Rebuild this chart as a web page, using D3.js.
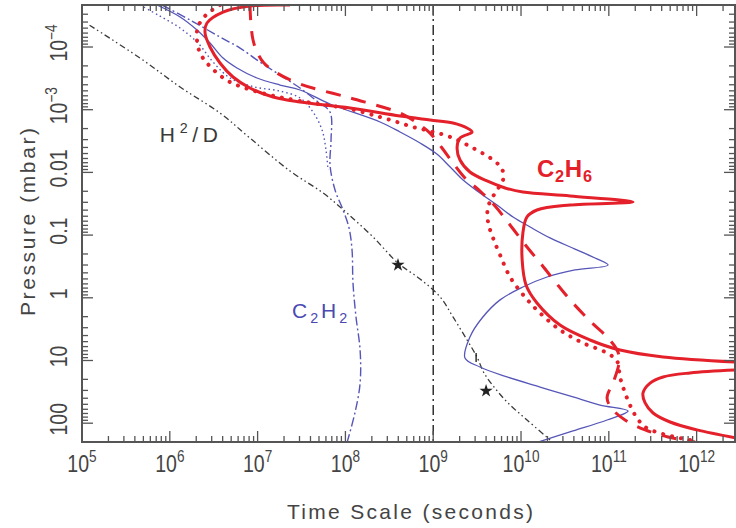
<!DOCTYPE html>
<html><head><meta charset="utf-8">
<script src="https://cdn.jsdelivr.net/npm/d3@7"></script>
<style>
html,body{margin:0;padding:0;background:#fff;}
svg{display:block;font-family:"Liberation Sans",Arial,sans-serif;}
</style></head>
<body>
<svg id="chart" width="736" height="528"></svg>
<script>
// ---- Data: [time scale (s), pressure (mbar)] ----
const c2h6SolidUpper = [[2.34e7,2.14e-5],[8.18e6,2.22e-5],[4.04e6,2.77e-5],[2.65e6,4.14e-5],[2.52e6,5.98e-5],[2.87e6,1.0e-4],[3.73e6,1.80e-4],[5.25e6,3.01e-4],[8.18e6,4.51e-4],[1.50e7,6.27e-4],[3.04e7,7.53e-4],[1.13e8,9.40e-4],[4.19e8,1.26e-3],[9.20e8,1.46e-3],[1.68e9,1.63e-3],[2.43e9,1.96e-3],[2.77e9,2.27e-3],[2.02e9,2.83e-3],[1.87e9,4.08e-3],[2.02e9,6.34e-3],[2.62e9,9.86e-3],[4.10e9,1.37e-2],[6.58e9,1.77e-2],[1.05e10,2.06e-2],[3.62e10,2.38e-2],[1.89e11,2.96e-2],[3.62e10,3.31e-2],[1.52e10,3.98e-2],[1.17e10,5.14e-2],[1.05e10,9.26e-2],[1.03e10,0.249],[1.14e10,0.625],[1.52e10,1.21],[2.78e10,2.72],[6.11e10,4.71],[1.34e11,6.81],[4.15e11,8.80],[2.81e12,10.6]];
const c2h6SolidLower = [[2.81e12,14.2],[8.41e11,15.8],[4.15e11,18.3],[2.95e11,22.9],[2.45e11,33.0],[2.59e11,47.6],[3.19e11,68.8],[4.98e11,95.7],[1.01e12,128],[2.81e12,172]];
const c2h6Dashed = [[8.18e6,2.14e-5],[8.41e6,4.46e-5],[8.87e6,7.73e-5],[9.84e6,1.20e-4],[1.18e7,1.80e-4],[1.66e7,2.60e-4],[3.04e7,3.89e-4],[1.13e8,6.50e-4],[4.19e8,1.13e-3],[6.54e8,1.63e-3],[9.20e8,2.36e-3],[1.26e9,4.08e-3],[1.68e9,7.08e-3],[2.30e9,1.23e-2],[3.41e9,1.98e-2],[5.06e9,3.44e-2],[7.50e9,6.90e-2],[1.17e10,0.155],[1.73e10,0.300],[2.51e10,0.581],[3.81e10,1.17],[6.44e10,2.52],[9.80e10,4.38],[1.27e11,7.31],[1.31e11,10.6],[1.15e11,20.5],[9.55e10,39.6],[1.09e11,59.2],[1.53e11,88.9],[2.59e11,128],[4.73e11,166],[9.59e11,200]];
const c2h6Dotted = [[3.73e6,2.14e-5],[2.58e6,3.09e-5],[2.09e6,4.80e-5],[2.04e6,7.73e-5],[2.21e6,1.25e-4],[2.65e6,1.80e-4],[3.36e6,2.51e-4],[4.60e6,3.48e-4],[7.19e6,4.51e-4],[1.38e7,5.83e-4],[3.04e7,7.26e-4],[1.13e8,9.75e-4],[2.48e8,1.31e-3],[3.87e8,1.57e-3],[5.89e8,1.89e-3],[9.20e8,2.19e-3],[1.56e9,2.72e-3],[2.84e9,4.08e-3],[4.80e9,6.34e-3],[6.08e9,8.83e-3],[6.24e9,1.32e-2],[5.06e9,2.13e-2],[4.21e9,3.56e-2],[4.21e9,6.18e-2],[4.80e9,0.111],[5.77e9,0.207],[7.50e9,0.466],[1.11e10,0.971],[1.65e10,1.75],[2.78e10,3.26],[5.08e10,5.26],[9.55e10,7.59],[1.24e11,10.2],[1.34e11,18.3],[1.49e11,29.6],[1.70e11,47.6],[1.99e11,73.9],[2.59e11,115],[4.15e11,149],[8.41e11,185]];
const c2h2Solid = [[7.15e5,2.14e-5],[1.31e6,3.32e-5],[2.04e6,5.36e-5],[2.87e6,8.63e-5],[4.04e6,1.50e-4],[5.82e6,2.16e-4],[9.84e6,3.12e-4],[1.80e7,4.04e-4],[3.04e7,4.85e-4],[6.68e7,8.11e-4],[2.48e8,1.57e-3],[4.19e8,2.27e-3],[7.08e8,3.40e-3],[1.10e9,5.09e-3],[1.56e9,8.20e-3],[2.19e9,1.32e-2],[3.41e9,2.13e-2],[5.33e9,3.31e-2],[8.11e9,5.14e-2],[1.27e10,7.43e-2],[2.14e10,0.111],[4.12e10,0.167],[6.97e10,0.232],[9.80e10,0.300],[4.12e10,0.360],[1.98e10,0.466],[1.05e10,0.673],[5.77e9,1.08],[3.60e9,2.10],[2.62e9,4.22],[2.30e9,9.12],[3.41e9,12.7],[6.93e9,18.3],[1.65e10,26.5],[3.91e10,38.2],[7.94e10,51.3],[1.66e11,63.9],[9.55e10,88.9],[3.91e10,133],[1.45e10,207]];
const c2h2DashDot = [[8.15e5,2.14e-5],[1.70e6,3.71e-5],[3.73e6,6.93e-5],[6.31e6,1.04e-4],[1.06e7,1.73e-4],[1.80e7,2.80e-4],[3.04e7,4.51e-4],[4.88e7,7.53e-4],[6.68e7,1.09e-3],[6.86e7,3.04e-3],[6.68e7,7.62e-3],[7.62e7,1.91e-2],[9.40e7,3.98e-2],[1.10e8,7.71e-2],[1.19e8,0.173],[1.22e8,0.581],[1.32e8,2.02],[1.47e8,6.81],[1.47e8,22.9],[1.29e8,66.4],[1.04e8,207]];
const c2h2Dotted = [[4.58e5,2.14e-5],[7.73e5,3.21e-5],[1.31e6,4.98e-5],[2.09e6,8.63e-5],[3.10e6,1.73e-4],[4.85e6,3.12e-4],[9.33e6,4.35e-4],[1.80e7,5.04e-4],[3.04e7,6.50e-4],[4.28e7,1.09e-3],[5.42e7,2.11e-3],[6.01e7,4.39e-3],[6.34e7,9.16e-3]];
const diffusion = [[1.22e5,4.50e-5],[4.58e5,1.50e-4],[1.31e6,4.35e-4],[3.73e6,1.13e-3],[8.18e6,2.83e-3],[2.34e7,9.51e-3],[5.56e7,2.13e-2],[1.04e8,4.45e-2],[2.06e8,0.107],[3.97e8,0.279],[7.08e8,0.501],[1.20e9,0.971],[1.68e9,2.02],[2.43e9,4.71],[3.15e9,8.80],[3.79e9,15.8],[4.93e9,26.5],[7.11e9,47.6],[1.17e10,88.9],[2.14e10,185]];
const starPoints = [[3.97e8,0.300],[4.00e9,30.6]];
const errorBar = [[3.08e9,7.59],[3.08e9,10.6]];
const markerTime = 1e9;
const xTickExponents = [5,6,7,8,9,10,11,12];
const yTickValues = [1e-4,1e-3,0.01,0.1,1,10,100];
const yTickLabels = [["10","\u22124"],["10","\u22123"],["0.01"],["0.1"],["1"],["10"],["100"]];
const labels = [
  {t:7.7e5, p:3.27e-3, parts:[["H",""],["2","sup"],["/D",""]], color:"#3a3a3a", bold:false, size:21, width:58},
  {t:2.47e7, p:2.1, parts:[["C",""],["2","sub"],["H",""],["2","sub"]], color:"#4a4ab2", bold:false, size:21, width:55},
  {t:1.52e10, p:1.18e-2, parts:[["C",""],["2","sub"],["H",""],["6","sub"]], color:"#e4202a", bold:true, size:24, width:55}
];

// ---- Layout ----
const L = 82, R = 735, T = 5, B = 442;
const x = d3.scaleLog().domain([1e5, Math.pow(10, 12.437)]).range([L, R]);
const y = d3.scaleLog().domain([Math.pow(10, -4.67), Math.pow(10, 2.30)]).range([T, B]);

const svg = d3.select("#chart");
svg.append("defs").append("clipPath").attr("id","plotclip")
  .append("rect").attr("x",L).attr("y",T).attr("width",R-L).attr("height",B-T);

const plot = svg.append("g").attr("clip-path","url(#plotclip)");
const line = d3.line().x(d=>x(d[0])).y(d=>y(d[1])).curve(d3.curveCatmullRom.alpha(0.5));
const lineLin = d3.line().x(d=>x(d[0])).y(d=>y(d[1]));

const RED = "#e4202a", BLUE = "#5656b8", BLK = "#3a3a3a";

// vertical marker at 1e9
plot.append("line").attr("x1",x(markerTime)).attr("x2",x(markerTime))
  .attr("y1",T).attr("y2",B).attr("stroke","#222").attr("stroke-width",1.4)
  .attr("stroke-dasharray","10,4,2,4");

// H^2/D
plot.append("path").attr("d",line(diffusion)).attr("fill","none").attr("stroke",BLK)
  .attr("stroke-width",1.3).attr("stroke-dasharray","6,3,1.5,3,1.5,3");
plot.append("path").attr("d",lineLin(errorBar)).attr("stroke","#222").attr("stroke-width",1.4);
plot.selectAll(".star").data(starPoints).enter().append("path")
  .attr("d", d3.symbol().type(d3.symbolStar).size(55))
  .attr("transform", d=>`translate(${x(d[0])},${y(d[1])})`).attr("fill","#222");

// C2H2 (blue)
plot.append("path").attr("d",line(c2h2Dotted)).attr("fill","none").attr("stroke",BLUE)
  .attr("stroke-width",1.4).attr("stroke-dasharray","1.5,3");
plot.append("path").attr("d",line(c2h2DashDot)).attr("fill","none").attr("stroke",BLUE)
  .attr("stroke-width",1.4).attr("stroke-dasharray","9,3,2,3");
plot.append("path").attr("d",line(c2h2Solid)).attr("fill","none").attr("stroke",BLUE)
  .attr("stroke-width",1.3);

// C2H6 (red)
plot.append("path").attr("d",line(c2h6Dotted)).attr("fill","none").attr("stroke",RED)
  .attr("stroke-width",4).attr("stroke-linecap","round").attr("stroke-dasharray","0.1,9");
plot.append("path").attr("d",line(c2h6Dashed)).attr("fill","none").attr("stroke",RED)
  .attr("stroke-width",3).attr("stroke-dasharray","15,11");
[c2h6SolidUpper, c2h6SolidLower].forEach(s=>{
  plot.append("path").attr("d",line(s)).attr("fill","none").attr("stroke",RED)
    .attr("stroke-width",3).attr("stroke-linejoin","round");
});

// ---- Frame and ticks ----
const axisCol = "#555";
const fr = svg.append("g");
fr.append("rect").attr("x",L).attr("y",T).attr("width",R-L).attr("height",B-T)
  .attr("fill","none").attr("stroke",axisCol).attr("stroke-width",2);
const xd = x.domain(), yd = y.domain();
for (let e=4; e<=13; e++) for (let k=1;k<=9;k++){
  const v = k*Math.pow(10,e);
  if (v < xd[0]*0.999 || v > xd[1]) continue;
  const len = k===1?11:6, px = x(v);
  fr.append("line").attr("x1",px).attr("x2",px).attr("y1",B).attr("y2",B-len).attr("stroke",axisCol).attr("stroke-width",1.3);
  fr.append("line").attr("x1",px).attr("x2",px).attr("y1",T).attr("y2",T+len).attr("stroke",axisCol).attr("stroke-width",1.3);
}
for (let e=-6; e<=3; e++) for (let k=1;k<=9;k++){
  const v = k*Math.pow(10,e);
  if (v < yd[0] || v > yd[1]) continue;
  const len = k===1?11:6, py = y(v);
  fr.append("line").attr("x1",L).attr("x2",L+len).attr("y1",py).attr("y2",py).attr("stroke",axisCol).attr("stroke-width",1.3);
  fr.append("line").attr("x1",R).attr("x2",R-len).attr("y1",py).attr("y2",py).attr("stroke",axisCol).attr("stroke-width",1.3);
}

// x tick labels
const TXT = "#444";
xTickExponents.forEach(e=>{
  const g = svg.append("g").attr("transform",`translate(${x(Math.pow(10,e))},472)`);
  const t = g.append("text").attr("transform","scale(0.85,1)").attr("text-anchor","middle").attr("fill",TXT);
  t.append("tspan").attr("font-size",23).text("10");
  t.append("tspan").attr("font-size",16).attr("dy",-10).text(String(e));
});
// y tick labels (rotated)
yTickValues.forEach((v,i)=>{
  const g = svg.append("g").attr("transform",`translate(67,${y(v)-4}) rotate(-90)`);
  const t = g.append("text").attr("transform","scale(0.85,1)").attr("text-anchor","middle").attr("fill",TXT);
  const lab = yTickLabels[i];
  t.append("tspan").attr("font-size",23).text(lab[0]);
  if (lab.length>1) t.append("tspan").attr("font-size",16).attr("dy",-10).text(lab[1]);
});

// axis titles
svg.append("text").attr("x",410).attr("y",519).attr("text-anchor","middle")
  .attr("font-size",21).attr("fill",TXT)
  .attr("textLength",246).attr("lengthAdjust","spacing").text("Time Scale (seconds)");
svg.append("g").attr("transform","translate(35,222) rotate(-90)")
  .append("text").attr("text-anchor","middle").attr("font-size",21).attr("fill",TXT)
  .attr("textLength",188).attr("lengthAdjust","spacing").text("Pressure (mbar)");

// in-plot labels
labels.forEach(lb=>{
  const g = svg.append("g").attr("transform",`translate(${x(lb.t)},${y(lb.p)})`);
  const t = g.append("text").attr("fill",lb.color)
    .attr("font-weight",lb.bold?"bold":"normal")
    .attr("textLength",lb.width).attr("lengthAdjust","spacing");
  let shift = 0;
  lb.parts.forEach(([s,kind])=>{
    const ts = t.append("tspan").text(s);
    let target = kind==="sup" ? -9 : kind==="sub" ? 5 : 0;
    ts.attr("dy", target - shift).attr("font-size", kind ? lb.size*0.68 : lb.size);
    shift = target;
  });
});
</script>
</body></html>
